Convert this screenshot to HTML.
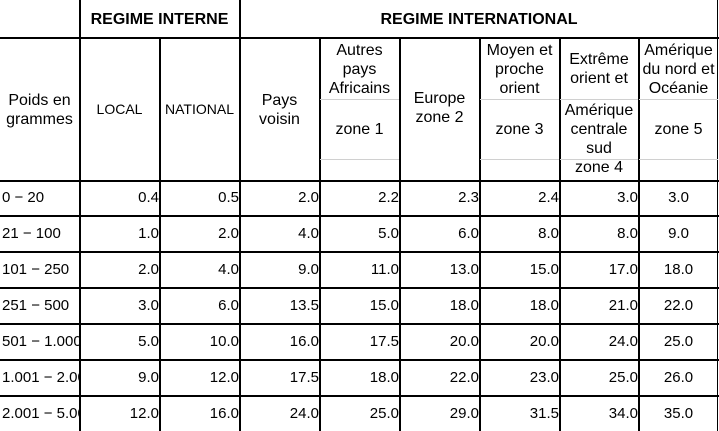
<!DOCTYPE html>
<html><head><meta charset="utf-8">
<style>
html,body{margin:0;padding:0;background:#fff;}
#t{position:relative;width:719px;height:431px;overflow:hidden;font-family:"Liberation Sans",Arial,sans-serif;color:#000;}
.l{position:absolute;background:#000;}
.g{position:absolute;background:#d0d0d0;height:1px;}
.c{position:absolute;display:flex;align-items:center;justify-content:center;text-align:center;font-size:16px;line-height:19px;white-space:nowrap;}
.v{position:absolute;font-size:15px;line-height:17px;text-align:right;white-space:nowrap;}
.b{font-weight:bold;font-size:16px;}
</style></head><body>
<div id="t">
  <div class="c b" style="left:80px;top:0;width:159px;height:38px">REGIME INTERNE</div>
  <div class="c b" style="left:240px;top:0;width:478px;height:38px">REGIME INTERNATIONAL</div>
  <div class="c" style="left:0;top:39px;width:79px;height:141px">Poids en<br>grammes</div>
  <div class="c" style="left:80px;top:39px;width:79px;height:141px;font-size:14px">LOCAL</div>
  <div class="c" style="left:160px;top:39px;width:79px;height:141px;font-size:14px">NATIONAL</div>
  <div class="c" style="left:240px;top:39px;width:79px;height:141px">Pays<br>voisin</div>
  <div class="c" style="left:320px;top:39px;width:79px;height:60px">Autres<br>pays<br>Africains</div>
  <div class="c" style="left:320px;top:100px;width:79px;height:59px">zone 1</div>
  <div class="c" style="left:400px;top:39px;width:79px;height:141px;padding-bottom:4px;box-sizing:border-box">Europe<br>zone 2</div>
  <div class="c" style="left:480px;top:39px;width:79px;height:60px">Moyen et<br>proche<br>orient</div>
  <div class="c" style="left:480px;top:100px;width:79px;height:59px">zone 3</div>
  <div class="c" style="left:560px;top:39px;width:78px;height:60px">Extrême<br>orient et</div>
  <div class="c" style="left:560px;top:101px;width:78px;height:80px;align-items:flex-start">Amérique<br>centrale<br>sud<br>zone 4</div>
  <div class="c" style="left:639px;top:39px;width:79px;height:60px">Amérique<br>du nord et<br>Océanie</div>
  <div class="c" style="left:639px;top:100px;width:79px;height:59px">zone 5</div>
</div>
<script>
const weights=["0 − 20","21 − 100","101 − 250","251 − 500","501 − 1.000","1.001 − 2.000","2.001 − 5.000"];
const local=["0.4","1.0","2.0","3.0","5.0","9.0","12.0"];
const national=["0.5","2.0","4.0","6.0","10.0","12.0","16.0"];
const voisin=["2.0","4.0","9.0","13.5","16.0","17.5","24.0"];
const zone1=["2.2","5.0","11.0","15.0","17.5","18.0","25.0"];
const zone2=["2.3","6.0","13.0","18.0","20.0","22.0","29.0"];
const zone3=["2.4","8.0","15.0","18.0","20.0","23.0","31.5"];
const zone4=["3.0","8.0","17.0","21.0","24.0","25.0","34.0"];
const zone5=["3.0","9.0","18.0","22.0","25.0","26.0","35.0"];
const t=document.getElementById('t');
const vx=[79,159,239,319,399,479,559,638];
const hy=[180,215,251,287,323,359,395];
function line(x,y,w,h,cls){const d=document.createElement('div');d.className=cls;d.style.cssText+=`left:${x}px;top:${y}px;width:${w}px;height:${h}px`;


t.appendChild(d);}
line(0,37,719,2,'l');
hy.forEach(y=>line(0,y,719,2,'l'));
vx.forEach((x,i)=>{const full=(i===0||i===2);line(x,full?0:37,2,full?431:394,'l');});
line(717,0,1,431,'l');
[[320,79],[480,79],[560,78],[639,79]].forEach(([x,w])=>line(x,99,w,1,'g'));
[[320,79],[480,79],[560,78],[639,79]].forEach(([x,w])=>line(x,159,w,1,'g'));
const cols=[local,national,voisin,zone1,zone2,zone3,zone4];
const tops=[181,217,253,289,325,361,397];
weights.forEach((w,r)=>{
  const cy=tops[r]+17;
  const d=document.createElement('div');d.className='v';
  d.style.cssText+=`left:2px;top:${cy-9}px;width:77px;overflow:hidden;text-align:left`;
  d.textContent=w;
  
  
  t.appendChild(d);
  cols.forEach((arr,c)=>{
    const e=document.createElement('div');e.className='v';
    e.style.cssText+=`left:${vx[c]+2}px;top:${cy-9}px;width:${vx[c+1]-vx[c]-2}px`;
    e.textContent=arr[r];
    
    
    t.appendChild(e);
  });
  const z=document.createElement('div');z.className='v';
  z.style.cssText+=`left:640px;top:${cy-9}px;width:77px;text-align:center`;
  z.textContent=zone5[r];
  
  
  t.appendChild(z);
});
</script>
</body></html>
